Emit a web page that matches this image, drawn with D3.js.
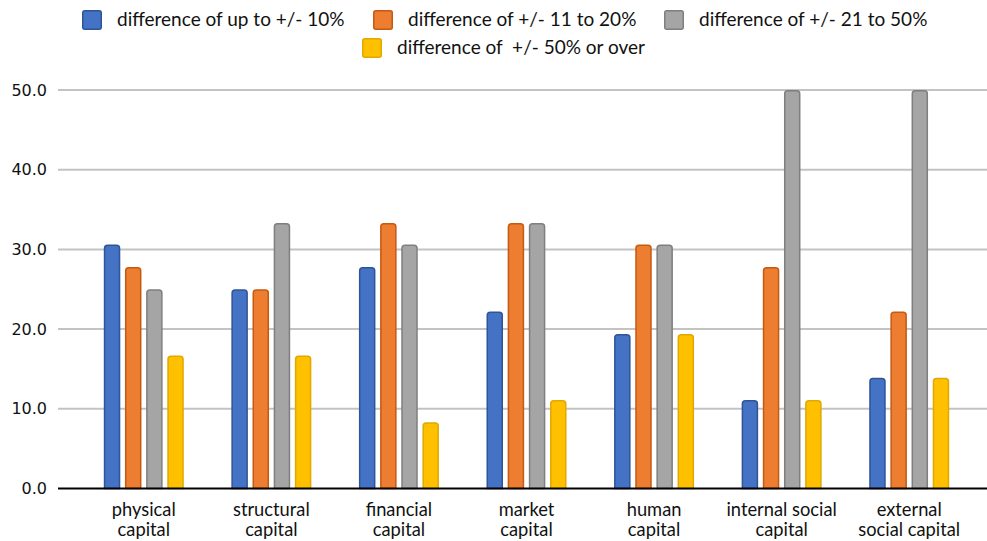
<!DOCTYPE html>
<html>
<head>
<meta charset="utf-8">
<script src="https://cdn.jsdelivr.net/npm/d3@7"></script>
<style>
  html, body { margin: 0; padding: 0; background: #fff; }
  svg { display: block; }
</style>
</head>
<body>
<svg id="chart" width="987" height="541"></svg>
<script>
// Share of respondents by size of difference, per capital type
const categories = [
  ["physical", "capital"],
  ["structural", "capital"],
  ["financial", "capital"],
  ["market", "capital"],
  ["human", "capital"],
  ["internal social", "capital"],
  ["external", "social capital"]
];
const seriesNames = [
  "difference of up to +/- 10%",
  "difference of +/- 11 to 20%",
  "difference of +/- 21 to 50%",
  "difference of  +/- 50% or over"
];
const upTo10   = [30.6, 25.0, 27.8, 22.2, 19.4, 11.1, 13.9];
const from11to20 = [27.8, 25.0, 33.3, 33.3, 30.6, 27.8, 22.2];
const from21to50 = [25.0, 33.3, 30.6, 33.3, 30.6, 50.0, 50.0];
const over50   = [16.7, 16.7, 8.3, 11.1, 19.4, 11.1, 13.9];
const seriesValues = [upTo10, from11to20, from21to50, over50];
const yTicks = [0, 10, 20, 30, 40, 50];

const fills   = ["#4472C4", "#ED7D31", "#A5A5A5", "#FFC000"];
const strokes = ["#2F5597", "#C55A11", "#7F7F7F", "#E0A800"];

const svg = d3.select("#chart");
const plotLeft = 58, plotRight = 987;

const y = d3.scaleLinear().domain([0, 50]).range([488.5, 90]);
const catKeys = categories.map((c, i) => i);
const x0 = d3.scaleBand().domain(catKeys).range([80, 973]);
const x1 = d3.scaleBand().domain(d3.range(seriesNames.length)).range([-40, 40]).paddingInner(0.22);

// gridlines
svg.append("g")
  .selectAll("line")
  .data(yTicks.filter(t => t > 0))
  .join("line")
  .attr("x1", plotLeft).attr("x2", plotRight)
  .attr("y1", d => y(d)).attr("y2", d => y(d))
  .attr("stroke", "#C3C3C3").attr("stroke-width", 2);

// y axis labels
const yAxis = d3.axisLeft(y).tickValues(yTicks).tickFormat(d3.format(".1f")).tickSize(0).tickPadding(0);
const gy = svg.append("g").attr("transform", `translate(47,0)`).call(yAxis);
gy.select(".domain").remove();
gy.selectAll("text")
  .attr("font-family", "DejaVu Sans, Verdana, sans-serif")
  .attr("font-size", 16)
  .attr("fill", "#111");

// bars with rounded top corners
function barPath(x, yTop, w, yBase, r) {
  r = Math.min(r, w / 2, (yBase - yTop) / 2);
  return `M${x},${yBase}V${yTop + r}Q${x},${yTop} ${x + r},${yTop}H${x + w - r}Q${x + w},${yTop} ${x + w},${yTop + r}V${yBase}Z`;
}

const bars = [];
seriesValues.forEach((vals, s) => {
  vals.forEach((v, c) => bars.push({ s, c, v }));
});

svg.append("g")
  .selectAll("path")
  .data(bars)
  .join("path")
  .attr("d", d => {
    const cx = x0(d.c) + x0.bandwidth() / 2;
    const bx = cx + x1(d.s);
    return barPath(bx + 0.75, y(d.v) + 0.75, x1.bandwidth() - 1.5, y(0), 3);
  })
  .attr("fill", d => fills[d.s])
  .attr("stroke", d => strokes[d.s])
  .attr("stroke-width", 1.5);

// baseline
svg.append("line")
  .attr("x1", plotLeft).attr("x2", plotRight)
  .attr("y1", y(0)).attr("y2", y(0))
  .attr("stroke", "#000").attr("stroke-width", 2);

// category labels
const xAxis = svg.append("g");
categories.forEach((lines, i) => {
  const cx = x0(i) + x0.bandwidth() / 2;
  const t = xAxis.append("text")
    .attr("x", cx)
    .attr("text-anchor", "middle")
    .attr("font-family", "Lato, 'Open Sans', sans-serif")
    .attr("font-size", 18.3)
    .attr("fill", "#111");
  lines.forEach((ln, k) => {
    t.append("tspan").attr("x", cx).attr("y", 516 + k * 20).text(ln);
  });
});

// legend
const legendItems = [
  { s: 0, sx: 82, tx: 117, y: 10 },
  { s: 1, sx: 373, tx: 408, y: 10 },
  { s: 2, sx: 664, tx: 699, y: 10 },
  { s: 3, sx: 362, tx: 397, y: 38 }
];
const lg = svg.append("g");
legendItems.forEach(it => {
  lg.append("rect")
    .attr("x", it.sx + 0.75).attr("y", it.y + 0.75)
    .attr("width", 18.5).attr("height", 18.5)
    .attr("rx", 2)
    .attr("fill", fills[it.s])
    .attr("stroke", strokes[it.s])
    .attr("stroke-width", 1.5);
  lg.append("text")
    .attr("x", it.tx).attr("y", it.y + 16)
    .attr("font-family", "Lato, 'Open Sans', sans-serif")
    .attr("font-size", 19)
    .attr("fill", "#111")
    .style("white-space", "pre")
    .text(seriesNames[it.s]);
});
</script>
</body>
</html>
